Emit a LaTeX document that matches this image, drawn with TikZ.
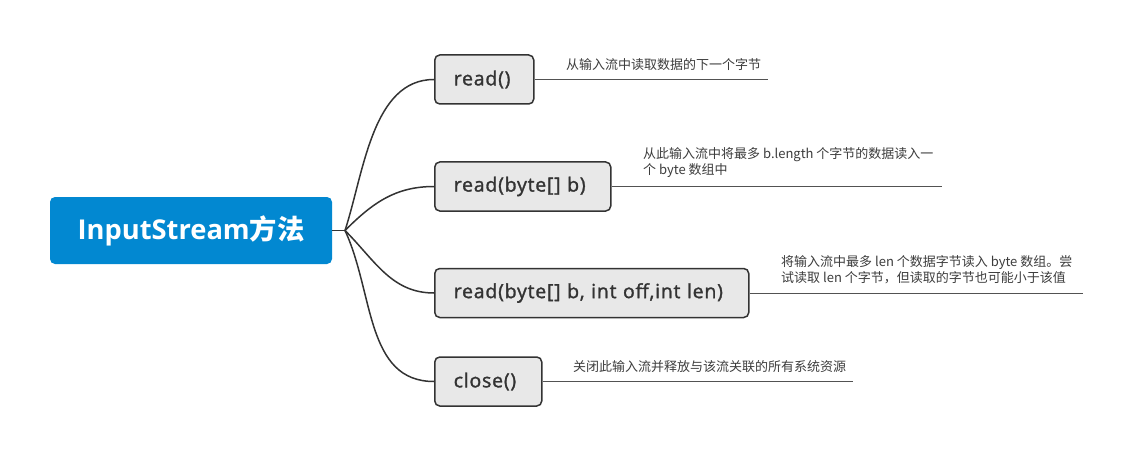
\documentclass[tikz,border=0pt]{standalone}
\usepackage{fontspec}
\setmainfont{Noto Sans CJK SC}
\newfontfamily\latinfont{Open Sans}
\newfontfamily\topicfont{Open Sans}[LetterSpace=4,FakeBold=1.5]
\usetikzlibrary{positioning}

\definecolor{rootblue}{RGB}{2,136,209}
\definecolor{topicgray}{RGB}{232,232,232}
\definecolor{edgegray}{RGB}{51,51,51}
\definecolor{notegray}{RGB}{60,60,60}

\tikzset{
  root/.style={fill=rootblue,rounded corners=5pt,minimum width=282pt,minimum height=67pt,
    text=white,font=\bfseries\fontsize{27.3}{28}\selectfont},
  topic/.style={draw=edgegray,line width=1.5pt,fill=topicgray,rounded corners=5pt,
    minimum height=49pt,anchor=west,inner xsep=19pt,align=left,text=edgegray,
    font=\topicfont\fontsize{19.5}{20}\selectfont},
  note/.style={anchor=south west,align=left,inner sep=0pt,text=notegray,
    font=\fontsize{13}{16.5}\selectfont},
  branch/.style={draw=edgegray,line width=1.5pt},
  uline/.style={draw=edgegray!85,line width=1pt}
}

\begin{document}
\begin{tikzpicture}[x=1pt,y=-1pt]
\useasboundingbox (0,0) rectangle (1134,457);
\node[root] (main) at (191,230.5) {{\latinfont InputStream}方法};
\coordinate (hub) at (345,230.5);
\node[topic,text width=61pt] (read) at (434,79.5) {read()};
\node[topic,text width=138pt] (readb) at (434,186.5) {read(byte[] b)};
\node[topic,text width=276pt] (readbl) at (434,293) {read(byte[] b, int off,int len)};
\node[topic,text width=69pt] (close) at (434,381.5) {close()};
\draw[branch] (main.east) -- (hub);
\draw[branch] (hub) to[out=72,in=180,looseness=.9] (read.west);
\draw[branch] (hub) to[out=45,in=180] (readb.west);
\draw[branch] (hub) to[out=-45,in=180] (readbl.west);
\draw[branch] (hub) to[out=-65,in=180] (close.west);
\coordinate (readend) at (768,79.5);
\coordinate (readbend) at (942,186.5);
\coordinate (readblend) at (1083,293);
\coordinate (closeend) at (853,381.5);
\draw[uline] (read.east) -- (readend);
\draw[uline] (readb.east) -- (readbend);
\draw[uline] (readbl.east) -- (readblend);
\draw[uline] (close.east) -- (closeend);
\node[note] (readnote) at (566,71) {从输入流中读取数据的下一个字节};
\node[note] (readbnote) at (643,178) {从此输入流中将最多 b.length 个字节的数据读入一\\个 byte 数组中};
\node[note] (readblnote) at (781,284.5) {将输入流中最多 len 个数据字节读入 byte 数组。尝\\试读取 len 个字节，但读取的字节也可能小于该值};
\node[note] (closenote) at (573,373) {关闭此输入流并释放与该流关联的所有系统资源};
\end{tikzpicture}
\end{document}
